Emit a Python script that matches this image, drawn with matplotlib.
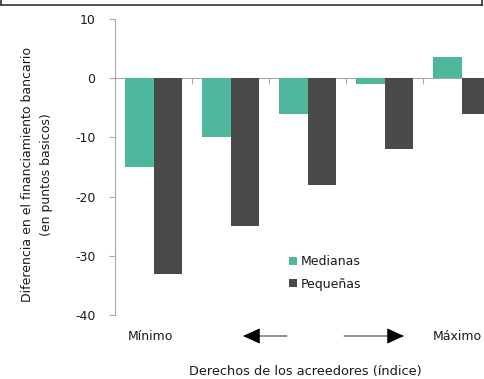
import matplotlib
matplotlib.use("Agg")
import matplotlib.pyplot as plt
from matplotlib.lines import Line2D
import numpy as np

plt.rcParams['font.family'] = ['DejaVu Sans']

groups = ["1", "2", "3", "4", "5"]
medianas = [-15, -10, -6, -1, 3.5]
pequenas = [-33, -25, -18, -12, -6]
series_labels = ["Medianas", "Pequeñas"]
yticks = [-40, -30, -20, -10, 0, 10]

teal = "#4db89c"
dark = "#4a4a4a"
txt = "#1a1a1a"

W, H = 484, 379
fig = plt.figure(figsize=(W / 100, H / 100), dpi=100)

# axes: y from 10 (top) to -40 (bottom); last group runs past the right edge
left_px, right_px, top_px, bot_px = 115, 500, 19, 315
ax = fig.add_axes([left_px / W, 1 - bot_px / H, (right_px - left_px) / W, (bot_px - top_px) / H])

x = np.arange(len(groups))
bw = 0.365
ax.bar(x - bw / 2, medianas, bw, color=teal, label=series_labels[0])
ax.bar(x + bw / 2, pequenas, bw, color=dark, label=series_labels[1])

ax.set_xlim(-0.5, len(groups) - 0.5)
ax.set_ylim(-40, 10)
ax.set_yticks(yticks)
ax.set_yticklabels([str(v) for v in yticks], fontsize=9, color=txt)

ax.spines['top'].set_visible(False)
ax.spines['right'].set_visible(False)
ax.spines['left'].set_color("#aaaaaa")
ax.spines['bottom'].set_position(('data', 0))
ax.spines['bottom'].set_color("#aaaaaa")
ax.spines['bottom'].set_zorder(0.5)
ax.set_xticks(x[:-1] + 0.5)
ax.set_xticklabels([])
ax.tick_params(axis='x', length=4, color="#aaaaaa", direction='out')
ax.tick_params(axis='y', length=4, color="#aaaaaa", pad=10)

ax.set_ylabel("Diferencia en el financiamiento bancario\n(en puntos basicos)",
              fontsize=9, linespacing=1.6, color=txt)
ax.yaxis.set_label_coords((53 - left_px) / (right_px - left_px), (bot_px - 175) / (bot_px - top_px))

leg = ax.legend(loc='upper left',
                bbox_to_anchor=((278 - left_px) / (right_px - left_px), 1 - (244 - top_px) / (bot_px - top_px)),
                frameon=False, fontsize=9, handlelength=0.6, handleheight=0.6,
                handletextpad=0.35, labelspacing=0.75)
for t in leg.get_texts():
    t.set_color(txt)

# index direction annotation below the axis
def fx(px):
    return px / W

def fy(py):
    return 1 - py / H

fig.text(fx(150), fy(337), "Mínimo", ha='center', va='center', fontsize=9, color=txt)
fig.text(fx(457), fy(337), "Máximo", ha='center', va='center', fontsize=9, color=txt)
fig.text(fx(305), fy(372), "Derechos de los acreedores (índice)", ha='center', va='center',
         fontsize=9.3, color=txt)

arrow_kw = dict(arrowstyle="-|>,head_length=1.1,head_width=0.5", color="black", lw=0.6,
                shrinkA=0, shrinkB=0)
ax.annotate("", xy=(fx(243), fy(336)), xytext=(fx(287), fy(336)),
            xycoords='figure fraction', textcoords='figure fraction', arrowprops=arrow_kw,
            annotation_clip=False)
ax.annotate("", xy=(fx(404), fy(336)), xytext=(fx(344), fy(336)),
            xycoords='figure fraction', textcoords='figure fraction', arrowprops=arrow_kw,
            annotation_clip=False)

# frame edge at the top of the panel
fig.add_artist(Line2D([fx(1), fx(482)], [fy(5), fy(5)], color="#333333", lw=1.2))
fig.add_artist(Line2D([fx(1), fx(1)], [fy(0), fy(5)], color="#333333", lw=1.2))
fig.add_artist(Line2D([fx(482), fx(482)], [fy(0), fy(5)], color="#333333", lw=1.2))

fig.savefig("out.png", dpi=100)
